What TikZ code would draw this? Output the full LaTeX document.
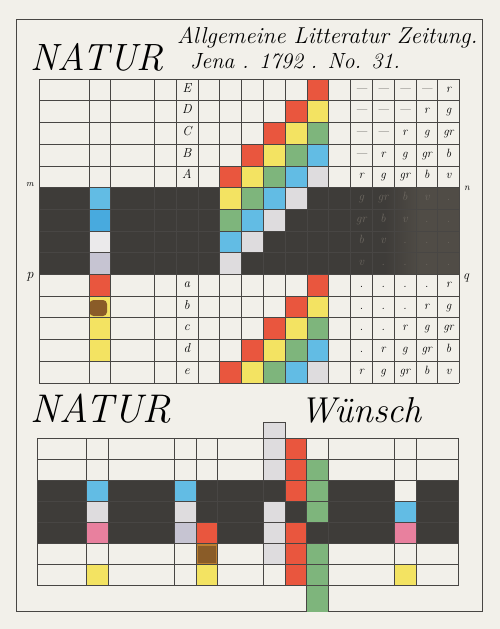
\documentclass[tikz,border=0pt]{standalone}
\usepackage{fontspec}
\usepackage{tikz}
\usetikzlibrary{calc,positioning}

\definecolor{paper}{RGB}{242,240,234}
\definecolor{linec}{RGB}{72,70,68}
\definecolor{band}{RGB}{62,60,57}
\definecolor{bandlight}{RGB}{80,76,70}
\definecolor{faint}{RGB}{108,103,96}
\definecolor{rot}{RGB}{233,86,62}
\definecolor{gelb}{RGB}{243,227,98}
\definecolor{gruen}{RGB}{126,181,124}
\definecolor{blau}{RGB}{98,188,228}
\definecolor{blaudark}{RGB}{72,170,222}
\definecolor{violett}{RGB}{222,220,222}
\definecolor{lila}{RGB}{198,196,210}
\definecolor{braun}{RGB}{138,92,40}
\definecolor{ocker}{RGB}{190,128,48}
\definecolor{rosa}{RGB}{232,128,158}

\newcommand{\ucell}[3]{\fill[#3] ({176+21.8*(#1)},{79+21.7*(#2)}) rectangle +(21.8,21.7);}
\newcommand{\lcell}[3]{\fill[#3] (#1,{438+21.1*(#2)}) rectangle +(21.8,21.1);}
\newcommand{\tint}[1]{\ifcase#1 r\or g\or gr\or b\or v\fi}

\begin{document}
\begin{tikzpicture}[x=1pt,y=-1pt]
		\tikzstyle{rule} = [draw=linec, line width=0.6pt];
		\tikzstyle{cellnote} = [font=\itshape\fontsize{12}{12}\selectfont, inner sep=0pt,
		text height=1ex, text depth=0pt];
		\tikzstyle{dimnote} = [cellnote, text=faint];
		\tikzstyle{rowname} = [cellnote, font=\itshape\fontsize{13}{13}\selectfont];
		\tikzstyle{title} = [font=\itshape, anchor=base west, inner sep=0pt];
		\tikzstyle{edgeletter} = [font=\itshape\fontsize{11}{11}\selectfont, inner sep=0pt];
		\useasboundingbox[fill=paper] (0,0) rectangle (500,629);
		\draw[draw=linec, line width=0.9pt] (16,19) rectangle (482,611);

		\node[title, font=\itshape\fontsize{38}{38}\selectfont] (natur) at (30,70) {NATUR};
		\node[title, font=\itshape\fontsize{23}{23}\selectfont] (zeitung) at (177,43) {Allgemeine Litteratur Zeitung.};
		\node[title, font=\itshape\fontsize{22}{22}\selectfont] (jena) at (190,68) {Jena . 1792 . No. 31.};
		\node[title, font=\itshape\fontsize{40}{40}\selectfont] (naturwish) at (30,422) {NATUR};
		\node[title, font=\itshape\fontsize{36}{36}\selectfont] (wunsch) at (300,422) {Wünsch};

		% upper table
		\fill[band] (39,187.5) rectangle (459.4,274.3);
		\shade[left color=band, right color=bandlight] (385,187.5) rectangle (420,274.3);
		\fill[bandlight] (420,187.5) rectangle (459.4,274.3);
		\ucell{-4}{5}{blau} \ucell{-4}{6}{blaudark} \ucell{-4}{7}{violett!60!white} \ucell{-4}{8}{lila}
		\ucell{-4}{9}{rot} \ucell{-4}{10}{gelb} \ucell{-4}{11}{gelb} \ucell{-4}{12}{gelb}
		\fill[braun, rounded corners=4pt] (89.5,300) rectangle (107,316);
		\foreach \tone [count=\h from 0] in {rot,gelb,gruen,blau,violett}{
			\foreach \r in {0,...,8}{
				\pgfmathtruncatemacro\col{6-\r+\h}
				\ifnum\col>1 \ifnum\col<7 \ucell{\col}{\r}{\tone}\fi\fi
			}
			\foreach \r in {9,...,13}{
				\pgfmathtruncatemacro\col{15-\r+\h}
				\ifnum\col>1 \ifnum\col<7 \ucell{\col}{\r}{\tone}\fi\fi
			}
		}
		\foreach \r in {0,...,14}
			\draw[rule] (39,{79+21.7*\r}) -- (459.4,{79+21.7*\r});
		\foreach \x in {-4,-3,-1,0,1,...,13}
			\draw[rule] ({176+21.8*\x},79) -- ({176+21.8*\x},382.8);
		\draw[rule] (39,79) -- (39,382.8);

		\foreach \l [count=\r from 0] in {E,D,C,B,A}
			\node[rowname] (row-\l) at (186.9,{79+21.7*(\r+.5)}) {\l};
		\foreach \l [count=\r from 9] in {a,b,c,d,e}
			\node[rowname] (row-\l) at (186.9,{79+21.7*(\r+.5)}) {\l};
		\foreach \r in {0,...,4}
			\foreach \t in {1,...,5}{
				\pgfmathtruncatemacro\h{\t+\r-5}
				\node[cellnote] (n-\r-\t) at ({176+21.8*(\t+7.5)},{79+21.7*(\r+.5)}) {\ifnum\h<0 ---\else\tint{\h}\fi};
			}
		\foreach \r in {5,...,8}
			\foreach \t in {1,...,5}{
				\pgfmathtruncatemacro\h{\t+\r-5}
				\node[dimnote] (n-\r-\t) at ({176+21.8*(\t+7.5)},{79+21.7*(\r+.5)}) {\ifnum\h>4 .\else\tint{\h}\fi};
			}
		\foreach \r in {9,...,13}
			\foreach \t in {1,...,5}{
				\pgfmathtruncatemacro\h{\t+\r-14}
				\node[cellnote] (n-\r-\t) at ({176+21.8*(\t+7.5)},{79+21.7*(\r+.5)}) {\ifnum\h<0 .\else\tint{\h}\fi};
			}
		\node[edgeletter, font=\itshape\fontsize{9}{9}\selectfont] (m) at (30,185) {m};
		\node[edgeletter, font=\itshape\fontsize{14}{14}\selectfont] (p) at (30,277) {p};
		\node[edgeletter, font=\itshape\fontsize{10}{10}\selectfont] (n) at (467,188) {n};
		\node[edgeletter, font=\itshape\fontsize{13}{13}\selectfont] (q) at (466,278) {q};

		% lower table
		\fill[band] (37,480.2) rectangle (458,543.5);
		\lcell{86.5}{2}{blau} \lcell{86.5}{3}{violett} \lcell{86.5}{4}{rosa} \lcell{86.5}{6}{gelb}
		\lcell{174}{2}{blau} \lcell{174}{3}{violett} \lcell{174}{4}{lila}
		\lcell{195.8}{4}{rot} \lcell{195.8}{5}{ocker} \lcell{195.8}{6}{gelb}
		\fill[braun] (198,545.5) rectangle (215.5,563);
		\fill[violett] (263,422) rectangle (284.8,438);
		\foreach \r in {0,1,3,4,5}
			\lcell{263}{\r}{violett}
		\foreach \r in {0,1,2,4,5,6}
			\lcell{284.8}{\r}{rot}
		\foreach \r in {1,2,3,5,6}
			\lcell{306.6}{\r}{gruen}
		\fill[gruen] (306.6,585.7) rectangle (328.4,612);
		\lcell{394.5}{2}{paper} \lcell{394.5}{3}{blau} \lcell{394.5}{4}{rosa} \lcell{394.5}{6}{gelb}
		\foreach \r in {0,...,7}
			\draw[rule] (37,{438+21.1*\r}) -- (458,{438+21.1*\r});
		\foreach \x in {37,86.5,108.3,174,195.8,217.6,263,284.8,306.6,328.4,394.5,416.3,458}
			\draw[rule] (\x,438) -- (\x,585.7);
		\draw[rule] (263,438) -- (263,422) -- (284.8,422) -- (284.8,438);
		\draw[rule] (306.6,585.7) -- (306.6,612) (328.4,585.7) -- (328.4,612);
	\end{tikzpicture}
\end{document}
